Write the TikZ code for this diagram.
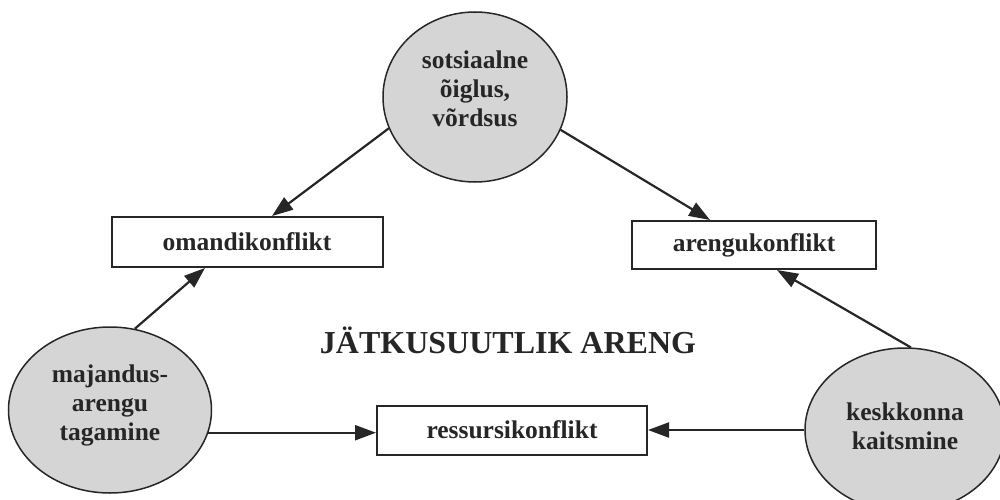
\documentclass[tikz,border=0pt]{standalone}
\usepackage{fontspec}
\setmainfont{Liberation Serif}
\usetikzlibrary{shapes.geometric,arrows.meta}
\definecolor{ink}{HTML}{262626}
\definecolor{disc}{HTML}{D5D5D5}
\tikzset{
  topic/.style={ellipse, draw=ink, line width=1.5pt, fill=disc, inner sep=0pt},
  topictext/.style={align=center, text=ink, font=\fontsize{25.5}{29}\selectfont\bfseries},
  conflict/.style={rectangle, draw=ink, line width=2pt, fill=white, inner sep=0pt,
    text=ink, font=\fontsize{25.5}{29}\selectfont\bfseries},
  arr/.style={draw=ink, line width=2.2pt, -{Triangle[length=21pt,width=15pt]}},
  heading/.style={text=ink, font=\fontsize{32}{36}\selectfont\bfseries}
}
\begin{document}
\begin{tikzpicture}[x=1pt,y=-1pt]
\useasboundingbox (0,0) rectangle (1000,500);
\node[topic, minimum width=184pt, minimum height=170pt,
  label={[topictext, yshift=8pt]center:sotsiaalne\\õiglus,\\võrdsus}] (soc) at (475,97) {};
\node[topic, minimum width=203pt, minimum height=166pt,
  label={[topictext, yshift=5pt]center:majandus-\\arengu\\tagamine}] (maj) at (110,410) {};
\node[topic, minimum width=200pt, minimum height=164pt,
  label={[topictext, yshift=4pt]center:keskkonna\\kaitsmine}] (kesk) at (905,430) {};
\node[conflict, minimum width=271pt, minimum height=50pt] (oma) at (247,242) {omandikonflikt};
\node[conflict, minimum width=244pt, minimum height=48pt] (are) at (754,245) {arengukonflikt};
\node[conflict, minimum width=270pt, minimum height=49pt] (res) at (512,430) {ressursikonflikt};
\node[heading] (title) at (508,340) {JÄTKUSUUTLIK ARENG};
\draw[arr] (soc.200) -- ([xshift=25pt]oma.north);
\draw[arr] (soc.339) -- ([xshift=-44pt]are.north);
\draw[arr] (maj.73) -- ([xshift=-42pt]oma.south);
\draw[arr] (kesk.86) -- ([xshift=23pt]are.south);
\draw[arr] (maj.-13) -- (maj.-13 -| res.west);
\draw[arr] (kesk.west) -- (res.east);
\end{tikzpicture}
\end{document}
